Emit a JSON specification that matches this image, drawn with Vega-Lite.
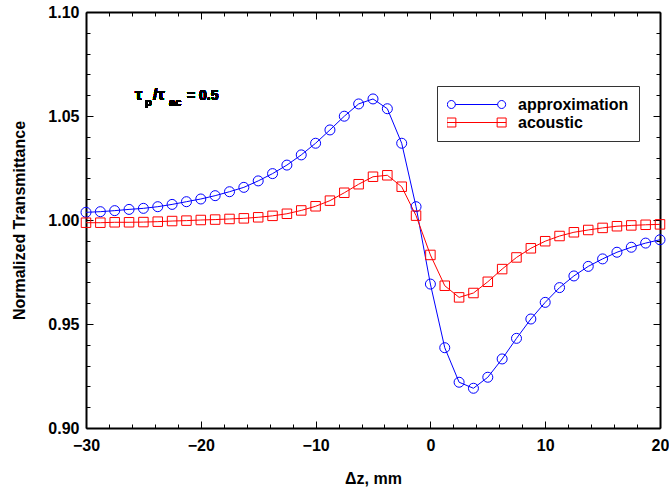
{
  "$schema": "https://vega.github.io/schema/vega-lite/v6.json",
  "width": 574,
  "height": 416,
  "autosize": {"type": "none"},
  "padding": {"left": 86, "top": 12, "right": 9, "bottom": 62},
  "background": "white",
  "data": {"values": [
    {"z": -30, "T": 1.0037, "series": "approximation"},
    {"z": -28.75, "T": 1.0040, "series": "approximation"},
    {"z": -27.5, "T": 1.0045, "series": "approximation"},
    {"z": -26.25, "T": 1.0051, "series": "approximation"},
    {"z": -25, "T": 1.0056, "series": "approximation"},
    {"z": -23.75, "T": 1.0064, "series": "approximation"},
    {"z": -22.5, "T": 1.0075, "series": "approximation"},
    {"z": -21.25, "T": 1.0088, "series": "approximation"},
    {"z": -20, "T": 1.0101, "series": "approximation"},
    {"z": -18.75, "T": 1.0117, "series": "approximation"},
    {"z": -17.5, "T": 1.0136, "series": "approximation"},
    {"z": -16.25, "T": 1.0157, "series": "approximation"},
    {"z": -15, "T": 1.0188, "series": "approximation"},
    {"z": -13.75, "T": 1.0223, "series": "approximation"},
    {"z": -12.5, "T": 1.0264, "series": "approximation"},
    {"z": -11.25, "T": 1.0313, "series": "approximation"},
    {"z": -10, "T": 1.0369, "series": "approximation"},
    {"z": -8.75, "T": 1.0433, "series": "approximation"},
    {"z": -7.5, "T": 1.0499, "series": "approximation"},
    {"z": -6.25, "T": 1.0558, "series": "approximation"},
    {"z": -5, "T": 1.0582, "series": "approximation"},
    {"z": -3.75, "T": 1.0535, "series": "approximation"},
    {"z": -2.5, "T": 1.0369, "series": "approximation"},
    {"z": -1.25, "T": 1.0064, "series": "approximation"},
    {"z": 0, "T": 0.9692, "series": "approximation"},
    {"z": 1.25, "T": 0.9386, "series": "approximation"},
    {"z": 2.5, "T": 0.9220, "series": "approximation"},
    {"z": 3.75, "T": 0.9191, "series": "approximation"},
    {"z": 5, "T": 0.9244, "series": "approximation"},
    {"z": 6.25, "T": 0.9332, "series": "approximation"},
    {"z": 7.5, "T": 0.9431, "series": "approximation"},
    {"z": 8.75, "T": 0.9524, "series": "approximation"},
    {"z": 10, "T": 0.9604, "series": "approximation"},
    {"z": 11.25, "T": 0.9675, "series": "approximation"},
    {"z": 12.5, "T": 0.9731, "series": "approximation"},
    {"z": 13.75, "T": 0.9777, "series": "approximation"},
    {"z": 15, "T": 0.9813, "series": "approximation"},
    {"z": 16.25, "T": 0.9845, "series": "approximation"},
    {"z": 17.5, "T": 0.9869, "series": "approximation"},
    {"z": 18.75, "T": 0.9889, "series": "approximation"},
    {"z": 20, "T": 0.9905, "series": "approximation"},
    {"z": -30, "T": 0.9987, "series": "acoustic"},
    {"z": -28.75, "T": 0.9987, "series": "acoustic"},
    {"z": -27.5, "T": 0.9989, "series": "acoustic"},
    {"z": -26.25, "T": 0.9989, "series": "acoustic"},
    {"z": -25, "T": 0.9990, "series": "acoustic"},
    {"z": -23.75, "T": 0.9992, "series": "acoustic"},
    {"z": -22.5, "T": 0.9995, "series": "acoustic"},
    {"z": -21.25, "T": 0.9997, "series": "acoustic"},
    {"z": -20, "T": 1.0000, "series": "acoustic"},
    {"z": -18.75, "T": 1.0002, "series": "acoustic"},
    {"z": -17.5, "T": 1.0005, "series": "acoustic"},
    {"z": -16.25, "T": 1.0008, "series": "acoustic"},
    {"z": -15, "T": 1.0013, "series": "acoustic"},
    {"z": -13.75, "T": 1.0020, "series": "acoustic"},
    {"z": -12.5, "T": 1.0030, "series": "acoustic"},
    {"z": -11.25, "T": 1.0046, "series": "acoustic"},
    {"z": -10, "T": 1.0066, "series": "acoustic"},
    {"z": -8.75, "T": 1.0093, "series": "acoustic"},
    {"z": -7.5, "T": 1.0131, "series": "acoustic"},
    {"z": -6.25, "T": 1.0172, "series": "acoustic"},
    {"z": -5, "T": 1.0208, "series": "acoustic"},
    {"z": -3.75, "T": 1.0215, "series": "acoustic"},
    {"z": -2.5, "T": 1.0160, "series": "acoustic"},
    {"z": -1.25, "T": 1.0021, "series": "acoustic"},
    {"z": 0, "T": 0.9832, "series": "acoustic"},
    {"z": 1.25, "T": 0.9684, "series": "acoustic"},
    {"z": 2.5, "T": 0.9628, "series": "acoustic"},
    {"z": 3.75, "T": 0.9649, "series": "acoustic"},
    {"z": 5, "T": 0.9703, "series": "acoustic"},
    {"z": 6.25, "T": 0.9764, "series": "acoustic"},
    {"z": 7.5, "T": 0.9820, "series": "acoustic"},
    {"z": 8.75, "T": 0.9864, "series": "acoustic"},
    {"z": 10, "T": 0.9898, "series": "acoustic"},
    {"z": 11.25, "T": 0.9923, "series": "acoustic"},
    {"z": 12.5, "T": 0.9941, "series": "acoustic"},
    {"z": 13.75, "T": 0.9952, "series": "acoustic"},
    {"z": 15, "T": 0.9962, "series": "acoustic"},
    {"z": 16.25, "T": 0.9970, "series": "acoustic"},
    {"z": 17.5, "T": 0.9974, "series": "acoustic"},
    {"z": 18.75, "T": 0.9977, "series": "acoustic"},
    {"z": 20, "T": 0.9979, "series": "acoustic"}
  ]},
  "resolve": {"axis": {"x": "independent", "y": "independent"}},
  "layer": [
    {
      "transform": [{"filter": "false"}],
      "mark": {"type": "point", "filled": false, "strokeWidth": 1},
      "encoding": {
        "x": {"field": "z", "type": "quantitative",
          "scale": {"domain": [-30, 20], "nice": false, "zero": false}, "axis": null},
        "y": {"field": "T", "type": "quantitative",
          "scale": {"domain": [0.9, 1.1], "nice": false, "zero": false}, "axis": null},
        "color": {"field": "series", "type": "nominal",
          "scale": {"domain": ["approximation", "acoustic"], "range": ["#0000ff", "#ff0000"]},
          "legend": {"title": null, "orient": "none", "legendX": 351, "legendY": 74,
            "symbolSize": 3364, "clipHeight": 17, "rowPadding": 1, "padding": 10,
            "labelOffset": 12, "strokeColor": "#333333", "fillColor": "white",
            "symbolStrokeWidth": 1, "symbolFillColor": "transparent", "symbolOpacity": 1,
            "labelFont": "Liberation Sans", "labelFontSize": 16, "labelFontWeight": "bold", "labelColor": "black"}},
        "shape": {"field": "series", "type": "nominal",
          "scale": {"domain": ["approximation", "acoustic"],
            "range": [
              "M-0.729,0A0.138,0.138,0,1,1,-1.005,0A0.138,0.138,0,1,1,-0.729,0ZM-0.729,0L0.729,0M1.005,0A0.138,0.138,0,1,1,0.729,0A0.138,0.138,0,1,1,1.005,0Z",
              "M-1.022,-0.155L-0.712,-0.155L-0.712,0.155L-1.022,0.155ZM-1.022,0L1.022,0M0.712,-0.155L1.022,-0.155L1.022,0.155L0.712,0.155Z"
            ]},
          "legend": {"title": null, "orient": "none", "legendX": 351, "legendY": 74,
            "symbolSize": 3364, "clipHeight": 17, "rowPadding": 1, "padding": 10,
            "labelOffset": 12, "strokeColor": "#333333", "fillColor": "white",
            "symbolStrokeWidth": 1, "symbolFillColor": "transparent", "symbolOpacity": 1,
            "labelFont": "Liberation Sans", "labelFontSize": 16, "labelFontWeight": "bold", "labelColor": "black"}}
      }
    },
    {
      "mark": {"type": "line", "strokeWidth": 1},
      "encoding": {
        "x": {"field": "z", "type": "quantitative",
          "axis": {"orient": "bottom", "title": "Δz, mm",
            "values": [-30,-28,-26,-24,-22,-20,-18,-16,-14,-12,-10,-8,-6,-4,-2,0,2,4,6,8,10,12,14,16,18,20],
            "labelExpr": "datum.value % 10 === 0 ? datum.label : ''",
            "tickSize": {"condition": {"test": "datum.value % 10 === 0", "value": -7}, "value": -4},
            "labelPadding": 16, "titlePadding": 14}},
        "y": {"field": "T", "type": "quantitative",
          "axis": {"orient": "left", "title": "Normalized Transmittance", "format": ".2f",
            "values": [0.9,0.91,0.92,0.93,0.94,0.95,0.96,0.97,0.98,0.99,1.0,1.01,1.02,1.03,1.04,1.05,1.06,1.07,1.08,1.09,1.1],
            "labelExpr": "round(datum.value*100) % 5 === 0 ? datum.label : ''",
            "tickSize": {"condition": {"test": "round(datum.value*100) % 5 === 0", "value": -7}, "value": -4},
            "labelPadding": 14, "titlePadding": 20}},
        "color": {"field": "series", "type": "nominal"},
        "order": {"field": "z", "type": "quantitative"}
      }
    },
    {
      "transform": [{"filter": "datum.series === 'approximation'"}],
      "mark": {"type": "point", "shape": "circle", "filled": false, "size": 100, "strokeWidth": 1, "opacity": 1},
      "encoding": {
        "x": {"field": "z", "type": "quantitative",
          "axis": {"orient": "top", "title": null, "labels": false,
            "values": [-30,-28,-26,-24,-22,-20,-18,-16,-14,-12,-10,-8,-6,-4,-2,0,2,4,6,8,10,12,14,16,18,20],
            "tickSize": {"condition": {"test": "datum.value % 10 === 0", "value": -7}, "value": -4}}},
        "y": {"field": "T", "type": "quantitative",
          "axis": {"orient": "right", "title": null, "labels": false,
            "values": [0.9,0.91,0.92,0.93,0.94,0.95,0.96,0.97,0.98,0.99,1.0,1.01,1.02,1.03,1.04,1.05,1.06,1.07,1.08,1.09,1.1],
            "tickSize": {"condition": {"test": "round(datum.value*100) % 5 === 0", "value": -7}, "value": -4}}},
        "color": {"field": "series", "type": "nominal"}
      }
    },
    {
      "transform": [{"filter": "datum.series === 'acoustic'"}],
      "mark": {"type": "point", "shape": "square", "filled": false, "size": 90, "strokeWidth": 1, "opacity": 1},
      "encoding": {
        "x": {"field": "z", "type": "quantitative", "axis": null},
        "y": {"field": "T", "type": "quantitative", "axis": null},
        "color": {"field": "series", "type": "nominal"}
      }
    },
    {
      "mark": {"type": "text", "text": "τ", "align": "left", "baseline": "alphabetic", "font": "Liberation Sans", "fontSize": 16, "fontWeight": "bold", "color": "black", "dx": 0},
      "encoding": {"x": {"datum": -25.73, "type": "quantitative", "axis": null}, "y": {"datum": 1.0577, "type": "quantitative", "axis": null}}
    },
    {
      "mark": {"type": "text", "text": "p", "align": "left", "baseline": "alphabetic", "font": "Liberation Sans", "fontSize": 11, "fontWeight": "bold", "color": "black", "dx": 10, "dy": 6},
      "encoding": {"x": {"datum": -25.73, "type": "quantitative", "axis": null}, "y": {"datum": 1.0577, "type": "quantitative", "axis": null}}
    },
    {
      "mark": {"type": "text", "text": "/τ", "align": "left", "baseline": "alphabetic", "font": "Liberation Sans", "fontSize": 16, "fontWeight": "bold", "color": "black", "dx": 18},
      "encoding": {"x": {"datum": -25.73, "type": "quantitative", "axis": null}, "y": {"datum": 1.0577, "type": "quantitative", "axis": null}}
    },
    {
      "mark": {"type": "text", "text": "ac", "align": "left", "baseline": "alphabetic", "font": "Liberation Sans", "fontSize": 11, "fontWeight": "bold", "color": "black", "dx": 34, "dy": 6},
      "encoding": {"x": {"datum": -25.73, "type": "quantitative", "axis": null}, "y": {"datum": 1.0577, "type": "quantitative", "axis": null}}
    },
    {
      "mark": {"type": "text", "text": "= 0.5", "align": "left", "baseline": "alphabetic", "font": "Liberation Sans", "fontSize": 14, "fontWeight": "bold", "color": "black", "dx": 52},
      "encoding": {"x": {"datum": -25.73, "type": "quantitative", "axis": null}, "y": {"datum": 1.0577, "type": "quantitative", "axis": null}}
    }
  ],
  "config": {
    "view": {"stroke": null},
    "axis": {"domainColor": "black", "domainWidth": 2, "tickColor": "black", "tickWidth": 1, "grid": false,
      "labelFont": "Liberation Sans", "labelFontSize": 16, "labelFontWeight": "bold", "labelColor": "black",
      "labelFlush": false, "labelOverlap": false, "labelBound": false,
      "titleFont": "Liberation Sans", "titleFontSize": 16, "titleFontWeight": "bold", "titleColor": "black"}
  }
}
